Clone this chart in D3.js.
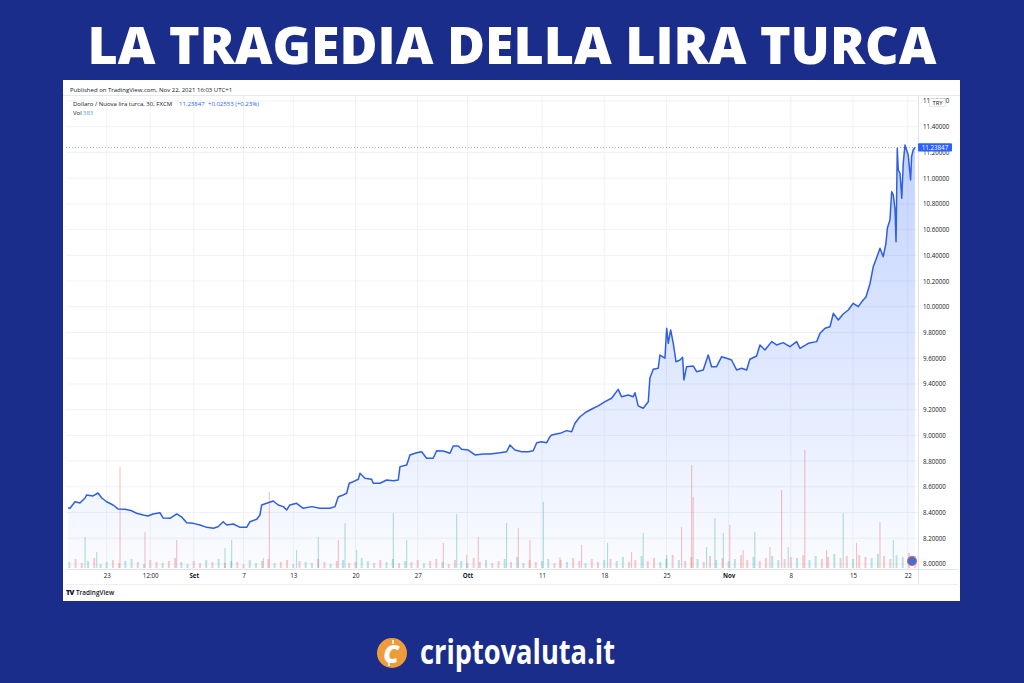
<!DOCTYPE html>
<html>
<head>
<meta charset="utf-8">
<script src="https://cdn.jsdelivr.net/npm/d3@7"></script>
<style>
  body { margin: 0; background: #1b2d8a; }
  svg { display: block; }
  .small { font-family: "Open Sans", sans-serif; font-size: 6.2px; fill: #131722; }
</style>
</head>
<body>
<div id="chart"></div>
<script>
// USD/TRY 30min, FXCM (TradingView), 18 Aug - 22 Nov 2021
// t = trading days counted from Mon 23 Aug (weekends skipped, like TradingView)
const priceT = [-3.11,-2.95,-2.55,-2.15,-1.74,-1.61,-1.10,-0.70,-0.40,0,
  0.51,0.91,1.47,2.01,2.41,2.94,3.32,3.72,4.28,4.53,
  5.09,5.63,6.03,6.43,6.96,7.50,8.04,8.57,8.95,9.37,
  9.65,10.18,10.72,11.25,11.52,12.06,12.32,12.46,12.86,13.39,
  13.79,14.20,14.47,14.73,15.27,15.80,16.48,17.15,17.95,18.35,
  18.62,19.02,19.29,19.50,19.82,20.23,20.36,20.76,21.30,21.43,
  21.97,22.51,23.04,23.44,23.58,24.12,24.38,24.92,25.32,25.72,
  26.25,26.53,27.06,27.60,27.86,28.26,28.54,29.07,29.61,30.27,
  30.81,31.62,32.15,32.42,32.82,33.36,33.89,34.29,34.57,34.97,
  35.37,35.64,35.77,36.44,36.98,37.38,37.65,38.05,38.59,39.12,
  39.52,40.06,40.59,41.12,41.39,41.93,42.33,42.47,42.73,43.13,
  43.54,43.67,43.94,44.34,44.48,44.88,45.02,45.15,45.34,45.55,
  45.77,46.09,46.30,46.41,46.62,47.15,47.43,47.96,48.36,48.63,
  49.03,49.44,49.84,50.24,50.64,51.04,51.45,51.71,52.25,52.52,
  52.92,53.46,53.86,54.39,54.93,55.47,55.74,56.41,57.08,57.35,
  57.75,58.15,58.42,58.82,59.21,59.62,60.02,60.42,60.82,61.04,
  61.36,61.63,62.03,62.17,62.43,62.65,62.76,62.97,63.11,63.24,
  63.38,63.46,63.56,63.64,63.78,63.92,64.04,64.18,64.31,64.44,
  64.63,64.71,64.84,64.98];
const priceV = [8.435,8.433,8.484,8.474,8.513,8.537,8.529,8.552,8.513,8.484,
  8.459,8.428,8.425,8.414,8.394,8.381,8.373,8.389,8.399,8.358,
  8.355,8.389,8.365,8.321,8.316,8.303,8.285,8.278,8.290,8.329,
  8.303,8.311,8.285,8.285,8.329,8.348,8.381,8.459,8.472,8.490,
  8.459,8.446,8.420,8.459,8.472,8.433,8.446,8.433,8.433,8.446,
  8.523,8.537,8.550,8.628,8.640,8.659,8.705,8.666,8.659,8.628,
  8.628,8.653,8.648,8.653,8.757,8.770,8.848,8.865,8.873,8.822,
  8.822,8.881,8.879,8.861,8.918,8.918,8.892,8.886,8.848,8.855,
  8.855,8.865,8.873,8.925,8.886,8.873,8.873,8.881,8.943,8.951,
  8.943,8.990,9.003,9.016,9.037,9.029,9.094,9.145,9.184,9.211,
  9.229,9.262,9.289,9.358,9.301,9.314,9.301,9.332,9.229,9.211,
  9.262,9.444,9.514,9.522,9.625,9.600,9.833,9.716,9.820,9.716,
  9.573,9.586,9.607,9.431,9.534,9.540,9.495,9.509,9.625,9.534,
  9.534,9.612,9.600,9.586,9.509,9.522,9.509,9.592,9.617,9.703,
  9.664,9.729,9.703,9.721,9.690,9.729,9.677,9.716,9.729,9.794,
  9.833,9.845,9.949,9.897,9.944,9.975,10.027,10.001,10.053,10.076,
  10.177,10.312,10.416,10.455,10.390,10.494,10.610,10.675,10.895,10.869,
  10.753,10.506,11.233,11.064,11.038,10.844,11.116,11.258,11.219,11.180,
  10.986,11.167,11.219,11.238];
const lastPrice = 11.23847;

// volume spikes (hundreds)
const volSpikeT = [-1.74,-0.80,1.07,3.08,5.63,9.51,10.05,12.59,13.07,15.27,17.01,18.62,19.16,20.10,
  23.04,24.12,27.06,28.14,28.94,29.87,32.15,33.09,34.03,35.10,36.44,38.18,40.27,42.20,43.13,
  45.02,46.22,47.03,47.15,48.23,48.90,49.57,50.10,51.17,52.11,53.32,54.26,54.79,56.13,57.88,
  59.21,60.29,62.17,63.24];
const volSpikeV = [31,16,101,36,28,20,28,10,76,18,31,28,45,18,
  55,28,25,54,13,31,45,40,28,66,11,23,25,16,35,
  13,41,103,71,21,50,35,43,18,36,21,78,21,118,18,
  55,25,46,28];
const volSpikeDir = "uuddduuuduuduuuududduddudduduuddduuuddudduddudduu".slice(0, 48);
// base volume, one bar every half trading day from t = -3
const volBaseStart = -3, volBaseStep = 0.5;
const volBase = [6,9,5,7,10,4,6,8,5,7,9,6,4,8,6,5,7,10,6,4,7,5,8,6,9,5,7,
  6,4,8,5,7,9,5,6,8,4,7,6,5,9,6,4,7,8,5,6,10,7,5,8,6,9,5,7,6,8,
  5,7,9,6,4,8,7,5,10,6,8,5,7,9,6,11,5,8,6,7,9,5,8,6,10,7,5,9,6,8,
  9,7,11,6,8,12,7,10,6,9,13,8,7,11,9,6,12,8,10,7,9,13,8,11,7,10,12,8,9,11,
  10,13,8,12,9,11,14,10,12,9,13,11,10,14,12,9,13,11,15,12];
const volBaseDir = "udduduudduududdudduuddudududduuddudduduuddududduudduududduddudduuddudduduudduudduddudduduuddudduududdudduduuddudduudduduudduddudduudduud";

const yTicks = [8.0,8.2,8.4,8.6,8.8,9.0,9.2,9.4,9.6,9.8,10.0,10.2,10.4,10.6,10.8,11.0,11.2,11.4,11.6];
const xTickT = [0,3.5,7,11,15,20,25,29,35,40,45,50,55,60,64.4];
const xTickLabels = ["23","12:00","Set","7","13","20","27","Ott","11","18","25","Nov","8","15","22"];
const monthLabels = ["Set","Ott","Nov"];

const W = 1024, H = 683;
const plot = { left: 66, right: 918, top: 96, bottom: 569 };

const svg = d3.select("#chart").append("svg")
    .attr("width", W).attr("height", H);

svg.append("rect").attr("width", W).attr("height", H).attr("fill", "#1b2d8a");

// title
svg.append("text")
    .attr("x", 512).attr("y", 64)
    .attr("text-anchor", "middle")
    .attr("textLength", 849).attr("lengthAdjust", "spacingAndGlyphs")
    .style("font-family", "'Open Sans', sans-serif")
    .style("font-weight", 800).style("font-size", "52px")
    .attr("fill", "#fff")
    .text("LA TRAGEDIA DELLA LIRA TURCA");

// white card
svg.append("rect").attr("x", 63).attr("y", 80).attr("width", 897).attr("height", 521).attr("fill", "#fff");

const xScale = d3.scaleLinear().domain([0, 60]).range([106.7, 853]);
const yScale = d3.scaleLinear().domain([8, 11.6]).range([564, 101]);
const vScale = d3.scaleLinear().domain([0, 120]).range([568, 448]);

// grid
const grid = svg.append("g");
grid.selectAll(".gx").data(xTickT).enter().append("line")
    .attr("x1", d => xScale(d)).attr("x2", d => xScale(d))
    .attr("y1", plot.top).attr("y2", plot.bottom)
    .attr("stroke", "#f0f2f7").attr("stroke-width", 1);
grid.selectAll(".gy").data(yTicks).enter().append("line")
    .attr("x1", plot.left).attr("x2", plot.right)
    .attr("y1", d => yScale(d)).attr("y2", d => yScale(d))
    .attr("stroke", "#f0f2f7").attr("stroke-width", 1);

// frame lines
svg.append("line").attr("x1", 63).attr("x2", 960).attr("y1", 95.5).attr("y2", 95.5).attr("stroke", "#e6e8ee");
svg.append("line").attr("x1", plot.left).attr("x2", 958).attr("y1", plot.bottom + 0.5).attr("y2", plot.bottom + 0.5).attr("stroke", "#e0e3eb");
svg.append("line").attr("x1", plot.right + 0.5).attr("x2", plot.right + 0.5).attr("y1", plot.top).attr("y2", 584).attr("stroke", "#e0e3eb");
svg.append("line").attr("x1", plot.left).attr("x2", 958).attr("y1", 584.5).attr("y2", 584.5).attr("stroke", "#eceef3");

const defs = svg.append("defs");
defs.append("clipPath").attr("id", "clip").append("rect")
    .attr("x", plot.left).attr("y", plot.top)
    .attr("width", plot.right - plot.left).attr("height", plot.bottom - plot.top);
const grad = defs.append("linearGradient").attr("id", "areaGrad")
    .attr("gradientUnits", "userSpaceOnUse")
    .attr("x1", 0).attr("x2", 0).attr("y1", 143).attr("y2", plot.bottom);
grad.append("stop").attr("offset", 0).attr("stop-color", "#2962ff").attr("stop-opacity", 0.28);
grad.append("stop").attr("offset", 1).attr("stop-color", "#2962ff").attr("stop-opacity", 0.02);

const g = svg.append("g").attr("clip-path", "url(#clip)");

// volume
const upCol = "#26a69a", dnCol = "#ef5350";
g.selectAll(".vb").data(volBase).enter().append("rect")
    .attr("x", (d, i) => xScale(volBaseStart + i * volBaseStep) - 1)
    .attr("width", 2)
    .attr("y", d => vScale(d))
    .attr("height", d => vScale(0) - vScale(d))
    .attr("fill", (d, i) => volBaseDir[i] === "u" ? upCol : dnCol)
    .attr("opacity", 0.3);
g.selectAll(".vs").data(volSpikeV).enter().append("rect")
    .attr("x", (d, i) => xScale(volSpikeT[i]) - 0.5)
    .attr("width", 1)
    .attr("y", d => vScale(d))
    .attr("height", d => vScale(0) - vScale(d))
    .attr("fill", (d, i) => volSpikeDir[i] === "u" ? upCol : dnCol)
    .attr("opacity", 0.4);

const pts = priceT.map((t, i) => [t, priceV[i]]);

g.append("path")
    .datum(pts)
    .attr("fill", "url(#areaGrad)")
    .attr("d", d3.area().x(d => xScale(d[0])).y0(plot.bottom).y1(d => yScale(d[1])));

g.append("path")
    .datum(pts)
    .attr("fill", "none")
    .attr("stroke", "#2e5fe3")
    .attr("stroke-width", 1.5)
    .attr("stroke-linejoin", "round")
    .attr("d", d3.line().x(d => xScale(d[0])).y(d => yScale(d[1])));

// last price dotted line
svg.append("line")
    .attr("x1", plot.left).attr("x2", plot.right)
    .attr("y1", yScale(lastPrice)).attr("y2", yScale(lastPrice))
    .attr("stroke", "#2962ff").attr("stroke-opacity", 0.5)
    .attr("stroke-dasharray", "1,2");

// y axis
const yAxis = svg.append("g")
    .attr("transform", `translate(${plot.right},0)`)
    .call(d3.axisRight(yScale).tickValues(yTicks).tickSize(0).tickPadding(5)
        .tickFormat(d => d.toFixed(5)));
yAxis.select(".domain").remove();
yAxis.selectAll("text").attr("class", "small").style("font-family", "'Open Sans', sans-serif")
    .style("font-size", "6.2px").attr("fill", "#131722");

// x axis
const xAxis = svg.append("g")
    .attr("transform", `translate(0,${plot.bottom})`)
    .call(d3.axisBottom(xScale).tickValues(xTickT).tickSize(0).tickPadding(5)
        .tickFormat((d, i) => xTickLabels[i]));
xAxis.select(".domain").remove();
xAxis.selectAll("text").style("font-family", "'Open Sans', sans-serif")
    .style("font-size", "6.2px").attr("fill", "#131722")
    .style("font-weight", (d, i) => monthLabels.includes(xTickLabels[i]) ? 700 : 400);

// TRY badge (covers most of the top label, as in TradingView)
svg.append("rect").attr("x", 929.5).attr("y", 98.5).attr("width", 16).attr("height", 8)
    .attr("fill", "#fff").attr("stroke", "#d1d4dc").attr("stroke-width", 0.6).attr("rx", 1);
svg.append("text").attr("x", 937.5).attr("y", 104.6).attr("text-anchor", "middle")
    .attr("class", "small").style("font-size", "5.8px").text("TRY");

// last price label
svg.append("rect").attr("x", plot.right).attr("y", yScale(lastPrice) - 4.3)
    .attr("width", 34).attr("height", 8.4).attr("fill", "#2962ff").attr("rx", 1);
svg.append("text").attr("x", plot.right + 17).attr("y", yScale(lastPrice) + 2.2)
    .attr("text-anchor", "middle").attr("class", "small")
    .style("fill", "#fff").text(lastPrice.toFixed(5));

// event flag icon
svg.append("circle").attr("cx", 912).attr("cy", 561).attr("r", 4.5)
    .attr("fill", "#3f6fd9").attr("stroke", "#e3625a").attr("stroke-width", 1.2);

// header texts
svg.append("text").attr("x", 70).attr("y", 91.5).attr("class", "small")
    .style("font-size", "6px").text("Published on TradingView.com, Nov 22, 2021 16:03 UTC+1");
const leg = svg.append("text").attr("x", 73).attr("y", 106).attr("class", "small").style("font-size", "6px");
leg.append("tspan").text("Dollaro / Nuova lira turca, 30, FXCM");
leg.append("tspan").attr("x", 179).style("fill", "#2962ff").text(lastPrice.toFixed(5));
leg.append("tspan").attr("x", 208).style("fill", "#2962ff").text("+0.02553 (+0.23%)");
const vol = svg.append("text").attr("x", 73).attr("y", 115).attr("class", "small").style("font-size", "6px");
vol.append("tspan").text("Vol");
vol.append("tspan").attr("x", 83).style("fill", "#5a9fd0").text("383");

// TradingView footer
svg.append("text").attr("x", 66).attr("y", 594.5).attr("class", "small")
    .style("font-size", "7px").style("font-weight", 800).style("letter-spacing", "-0.6px").text("TV");
svg.append("text").attr("x", 76).attr("y", 594.5).attr("class", "small")
    .style("font-size", "6.4px").style("font-weight", 600).text("TradingView");

// criptovaluta logo
svg.append("circle").attr("cx", 392).attr("cy", 653).attr("r", 15).attr("fill", "#ee9b3b");
svg.append("text").attr("x", 391).attr("y", 662.5).attr("text-anchor", "middle")
    .style("font-family", "'Open Sans', sans-serif").style("font-weight", 800)
    .style("font-style", "italic").style("font-size", "25px").attr("fill", "#fff").text("C");
svg.append("line").attr("x1", 393).attr("x2", 393).attr("y1", 640).attr("y2", 644).attr("stroke", "#fff").attr("stroke-width", 1.6);
svg.append("line").attr("x1", 389).attr("x2", 389).attr("y1", 662).attr("y2", 666).attr("stroke", "#fff").attr("stroke-width", 1.6);
svg.append("text").attr("x", 420).attr("y", 663.5)
    .attr("textLength", 195).attr("lengthAdjust", "spacingAndGlyphs")
    .style("font-family", "'Open Sans', sans-serif").style("font-weight", 700)
    .style("font-size", "34px").attr("fill", "#fff").text("criptovaluta.it");
</script>
</body>
</html>
